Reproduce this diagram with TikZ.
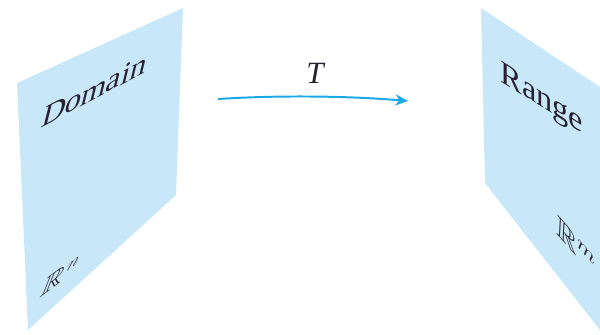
\documentclass[tikz,border=0pt]{standalone}
\usepackage{amssymb}
\usepackage{fontspec}
\setmainfont{Liberation Serif}
\usetikzlibrary{arrows.meta}
\definecolor{planeblue}{RGB}{200,232,250}
\definecolor{arrowblue}{RGB}{26,168,232}
\definecolor{ink}{RGB}{40,32,48}
\tikzset{
  plane/.style={fill=planeblue, draw=none},
  planelabel/.style={text=ink, inner sep=0pt, transform shape, font=\fontsize{23}{27}\selectfont},
  maplabel/.style={text=ink, inner sep=0pt, font=\fontsize{22}{26}\selectfont\itshape},
  maparrow/.style={draw=arrowblue, line width=1.4pt, -{Stealth[length=9pt,width=8pt]}}
}
\begin{document}
\begin{tikzpicture}[x=0.025cm,y=-0.025cm]
\useasboundingbox (0,0) rectangle (600,335);
% domain plane
\path[plane] (17,83) -- (183,8) -- (176,195) -- (28,330) -- cycle;
% range plane
\path[plane] (481,8) -- (600,87) -- (600,330) -- (485,183) -- cycle;
% labels
\node[planelabel, cm={1,0.53,0.25,1,(0,0)}] (dom) at (95,90) {Domain};
\node[planelabel, cm={1,-0.63,0,1,(0,0)}] (ran) at (542,100) {Range};
\node[planelabel, font=\fontsize{21}{24}\selectfont, cm={1,0.75,0.4,1,(0,0)}] (rn) at (61,276) {$\mathbb{R}^n$};
\node[planelabel, font=\fontsize{20}{23}\selectfont, cm={1,-1.15,0.05,1,(0,0)}] (rm) at (576,246) {$\mathbb{R}^m$};
% map arrow
\coordinate (src) at (218,99);
\coordinate (dst) at (408,101);
\node[maplabel] (T) at (315,73) {T};
\draw[maparrow] (src) .. controls (280,95) and (350,96) .. (dst);
\end{tikzpicture}
\end{document}
